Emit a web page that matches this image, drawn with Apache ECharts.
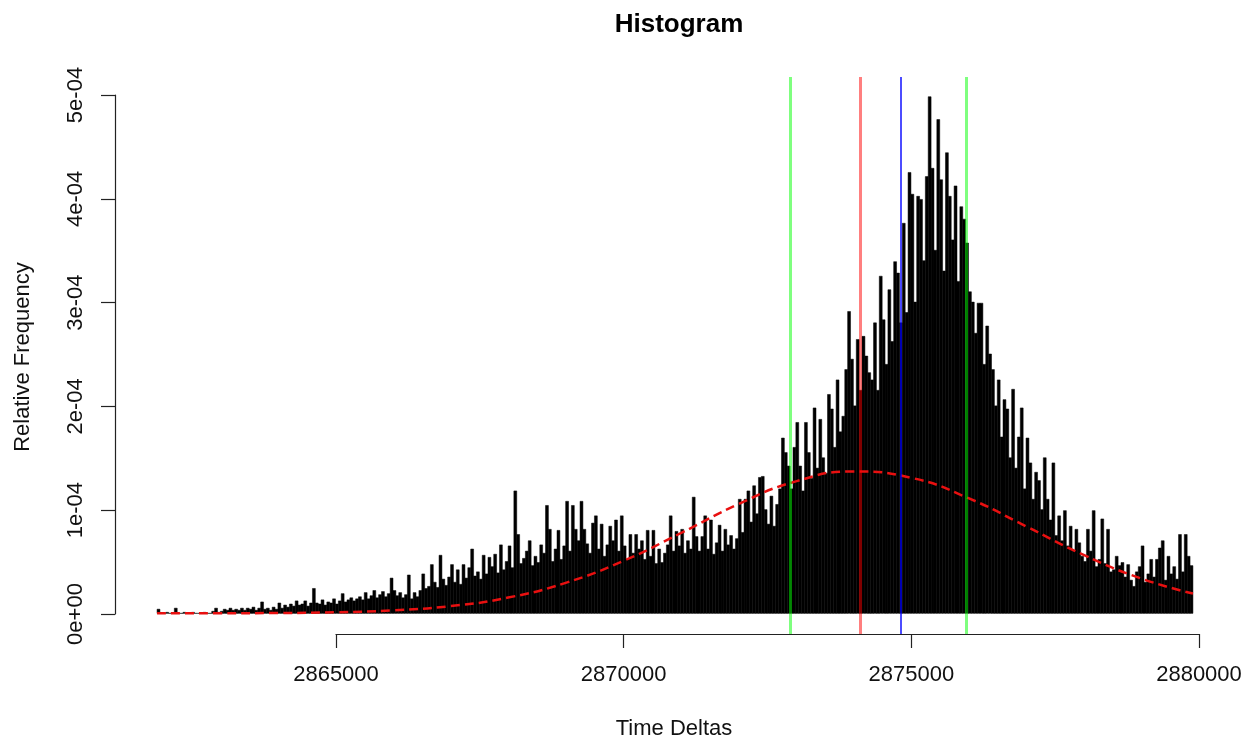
<!DOCTYPE html>
<html>
<head>
<meta charset="utf-8">
<script src="https://cdn.jsdelivr.net/npm/echarts@6/dist/echarts.min.js"></script>
<style>
  html, body { margin: 0; padding: 0; background: #ffffff; }
  #chart { width: 1250px; height: 737px; }
</style>
</head>
<body>
<div id="chart"></div>
<script>
// ---- data ----
const binStart = 2861900;      // left edge of first histogram bin
const binWidth = 50;           // width of every bin (Time Delta units)
// relative frequency of each bin, in units of 1e-6
const binDensity = [
  4,0,0,1,0,0,5,0,0,1,
  0,0,1,0,0,0,1,0,0,2,
  5,1,2,4,3,5,3,4,3,5,
  3,5,4,6,3,5,11,4,5,3,
  6,4,10,5,8,6,9,7,12,8,
  9,12,7,10,24,10,9,13,8,11,
  10,14,9,12,19,11,13,15,12,14,
  16,13,20,14,17,22,15,18,21,16,
  19,34,22,17,20,15,18,37,14,20,
  16,22,38,24,26,47,30,25,56,33,
  27,35,47,30,42,28,47,34,44,62,
  36,40,33,56,38,54,45,57,39,66,
  42,50,65,44,118,76,48,53,60,70,
  46,55,49,66,58,104,81,50,62,80,
  52,65,108,60,104,81,70,108,81,67,
  58,87,94,62,86,55,66,84,70,90,
  60,94,65,52,76,58,76,62,70,52,
  80,55,80,48,62,49,58,66,94,60,
  79,65,81,58,70,62,112,74,60,74,
  94,62,90,57,68,85,60,81,66,75,
  62,72,110,78,110,118,88,123,96,131,
  132,100,86,113,84,105,120,169,155,142,
  120,160,184,142,118,184,155,130,198,140,
  187,150,135,211,197,160,225,175,190,235,
  291,245,200,264,215,267,248,232,225,280,
  215,325,283,240,312,262,339,328,280,376,
  290,425,404,300,402,399,340,421,498,429,
  350,476,418,330,444,402,360,412,320,392,
  380,357,310,300,270,299,299,240,277,250,
  235,200,225,170,206,197,150,216,140,170,
  198,120,169,145,110,136,128,100,150,110,
  90,145,75,94,70,99,65,84,60,81,
  68,55,50,81,60,99,45,52,91,48,
  81,40,42,55,46,49,35,47,32,26,
  40,45,65,30,38,52,35,52,63,70,
  32,55,38,45,33,76,40,76,55,46
];
const densityUnit = 1e-6;

// fitted normal density curve (dashed red)
const curveX = [2861900,2863000,2864000,2865000,2866000,2867000,2868000,2869000,2870000,
                2871000,2872000,2873000,2874000,2875000,2876000,2877000,2878000,2879000,2879900];
const curveY = [0.00000002,0.0000001,0.00000033,0.00000103,0.00000285,0.00000697,0.0000152,0.0000294,0.0000505,
                0.0000773,0.0001052,0.0001272,0.0001367,0.0001307,0.000111,0.0000839,0.0000563,0.0000336,0.0000191];

// vertical reference lines
const lineLabels = ['lower', 'mean', 'median', 'upper'];
const lineValues = [2872907, 2874115, 2874828, 2875957];
const lineColors = ['rgba(0,255,0,0.5)', 'rgba(255,0,0,0.5)', 'rgba(0,0,255,0.7)', 'rgba(0,255,0,0.5)'];

// axis ticks
const xTickMin = 2865000, xTickMax = 2880000, xTickStep = 5000;
const yTickMin = 0, yTickMax = 5e-4, yTickStep = 1e-4;

// plot region extent (R's 4% extension)
const xRegion = [2861169, 2880631];
const yRegion = [-0.0000199, 0.000517];

// ---- build ----
const histData = binDensity.map((d, i) => [binStart + i * binWidth, binStart + (i + 1) * binWidth, d * densityUnit]);
const curveData = curveX.map((x, i) => [x, curveY[i]]);

function sciLabel(v) {
  if (Math.abs(v) < 1e-12) return '0e+00';
  const s = Number(v).toExponential(0);
  const parts = s.split('e');
  let exp = parseInt(parts[1], 10);
  const sign = exp < 0 ? '-' : '+';
  exp = Math.abs(exp);
  return parts[0] + 'e' + sign + (exp < 10 ? '0' + exp : '' + exp);
}

const FONT = 'Liberation Sans, Arial, Helvetica, sans-serif';
const chart = echarts.init(document.getElementById('chart'), null, { renderer: 'canvas' });

const option = {
  animation: false,
  backgroundColor: '#ffffff',
  title: {
    text: 'Histogram',
    left: 674,
    top: 7,
    textAlign: 'center',
    textStyle: { fontFamily: FONT, fontWeight: 'bold', fontSize: 26, color: '#000' }
  },
  grid: [
    { left: 115, right: 15, top: 77, bottom: 103 },   // data region
    { left: 336, right: 51, top: 77, bottom: 103 },   // x axis display
    { left: 115, width: 10, top: 95, bottom: 123 }    // y axis display
  ],
  xAxis: [
    { gridIndex: 0, type: 'value', min: xRegion[0], max: xRegion[1], show: false },
    {
      gridIndex: 1, type: 'value', min: xTickMin, max: xTickMax, interval: xTickStep,
      axisLine: { show: true, onZero: false, lineStyle: { color: '#222', width: 1.2 } },
      axisTick: { show: true, length: 14, lineStyle: { color: '#222', width: 1.2 } },
      splitLine: { show: false },
      axisLabel: { margin: 30, fontFamily: FONT, fontSize: 22, color: '#111', formatter: v => String(v) }
    },
    { gridIndex: 2, type: 'value', show: false }
  ],
  yAxis: [
    { gridIndex: 0, type: 'value', min: yRegion[0], max: yRegion[1], show: false },
    { gridIndex: 1, type: 'value', show: false },
    {
      gridIndex: 2, type: 'value', min: yTickMin, max: yTickMax, interval: yTickStep,
      axisLine: { show: true, onZero: false, lineStyle: { color: '#222', width: 1.2 } },
      axisTick: { show: true, length: 14, lineStyle: { color: '#222', width: 1.2 } },
      splitLine: { show: false },
      axisLabel: { margin: 28, rotate: 90, fontFamily: FONT, fontSize: 22, color: '#111', formatter: sciLabel }
    }
  ],
  graphic: [
    {
      type: 'text', x: 674, y: 729,
      style: { text: 'Time Deltas', font: '22px ' + FONT, fill: '#111', textAlign: 'center', textVerticalAlign: 'middle' }
    },
    {
      type: 'text', x: 23, y: 357, rotation: Math.PI / 2,
      style: { text: 'Relative Frequency', font: '22px ' + FONT, fill: '#111', textAlign: 'center', textVerticalAlign: 'middle' }
    }
  ],
  series: [
    {
      type: 'custom',
      xAxisIndex: 0, yAxisIndex: 0,
      z: 1,
      clip: true,
      data: histData,
      renderItem: function (params, api) {
        const p0 = api.coord([api.value(0), api.value(2)]);
        const p1 = api.coord([api.value(1), 0]);
        return {
          type: 'rect',
          shape: { x: p0[0], y: p0[1], width: p1[0] - p0[0], height: p1[1] - p0[1] },
          style: { fill: '#000', stroke: '#000', lineWidth: 0.5 }
        };
      }
    },
    {
      type: 'line',
      xAxisIndex: 0, yAxisIndex: 0,
      z: 3,
      data: curveData,
      smooth: true,
      showSymbol: false,
      symbol: 'none',
      lineStyle: { color: '#e81010', width: 2.5, type: [9, 5] },
      markLine: {
        silent: true,
        symbol: ['none', 'none'],
        label: { show: false },
        z: 5,
        data: lineValues.map((v, i) => ({
          name: lineLabels[i],
          xAxis: v,
          lineStyle: { color: lineColors[i], width: i === 2 ? 2 : 3, type: 'solid' }
        }))
      }
    }
  ]
};
chart.setOption(option);
</script>
</body>
</html>
